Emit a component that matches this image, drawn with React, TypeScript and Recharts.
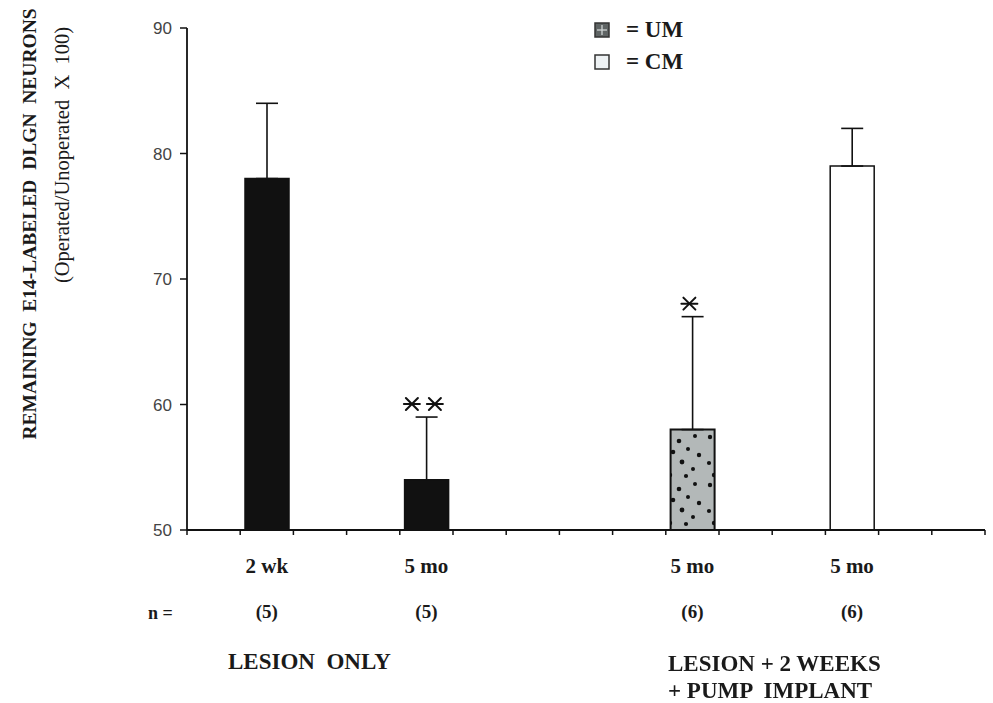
import { BarChart, Bar, XAxis, YAxis, Cell, ErrorBar, ReferenceDot, Legend } from "recharts";

// groups along the x axis (slot centres on a 0..15 scale)
const groupLabels = ["2 wk", "5 mo", "5 mo", "5 mo"];
const groupSlots = [1.5, 4.5, 9.5, 12.5];
const meanValues = [78, 54, 58, 79];
const semValues = [6, 5, 9, 3];
const nLabels = ["(5)", "(5)", "(6)", "(6)"];
const barKinds = ["lesion", "lesion", "UM", "CM"];
const sigMarks = ["", "**", "*", ""];
const yTicks = [50, 60, 70, 80, 90];
const slotEdges = [0, 1, 2, 3, 4, 5, 6, 7, 8, 9, 10, 11, 12, 13, 14, 15];
const legendItems = [
  { label: "= UM", kind: "UM" },
  { label: "= CM", kind: "CM" },
];

const serif = "'Liberation Serif', 'Times New Roman', serif";

const data = groupSlots.map((x, i) => ({
  x,
  mean: meanValues[i],
  err: [0, semValues[i]],
  kind: barKinds[i],
}));

const fillFor = (kind: string) =>
  kind === "UM" ? "url(#umDots)" : kind === "CM" ? "#ffffff" : "#111111";

// keeps the tick line but draws no text
const NoLabel = () => <g />;

const GroupTick = ({ x, y, payload }: any) => {
  const i = groupSlots.indexOf(payload.value);
  if (i < 0) return null;
  return (
    <g fontFamily={serif} fontWeight="bold" fill="#1a1a1a" textAnchor="middle">
      <text x={x} y={y + 35} fontSize={21}>{groupLabels[i]}</text>
      <text x={x} y={y + 80} fontSize={19}>{nLabels[i]}</text>
    </g>
  );
};

const Star = ({ cx, cy }: { cx: number; cy: number }) => (
  <g stroke="#111" strokeWidth={2} strokeLinecap="round">
    <line x1={cx - 8} y1={cy} x2={cx + 8} y2={cy} />
    <line x1={cx - 6} y1={cy - 6} x2={cx + 6} y2={cy + 6} />
    <line x1={cx - 6} y1={cy + 6} x2={cx + 6} y2={cy - 6} />
  </g>
);

const SigShape = (mark: string) => (props: any) => {
  const { cx, cy } = props;
  const count = mark.length;
  return (
    <g>
      {Array.from(mark).map((_, k) => (
        <Star key={k} cx={cx + (k - (count - 1) / 2) * 23 - 3} cy={cy - 13} />
      ))}
    </g>
  );
};

const LegendBox = () => (
  <div style={{ fontFamily: serif, fontWeight: "bold", fontSize: 23, color: "#1a1a1a" }}>
    {legendItems.map((item) => (
      <div key={item.kind} style={{ display: "flex", alignItems: "center", height: 32 }}>
        <svg width={16} height={16} style={{ marginRight: 16 }}>
          <rect x={1} y={1} width={14} height={14} fill={item.kind === "UM" ? "#5f6464" : "#eef2f4"} stroke="#333" strokeWidth={1.5} />
          {item.kind === "UM" && (
            <g stroke="#cfd4d4" strokeWidth={1.3}>
              <line x1={8} y1={3} x2={8} y2={13} />
              <line x1={3} y1={8} x2={13} y2={8} />
            </g>
          )}
        </svg>
        <span>{item.label}</span>
      </div>
    ))}
  </div>
);

export default function App() {
  return (
    <div style={{ position: "fixed", left: 0, top: 0, width: 993, height: 703, background: "#fff" }}>
      <BarChart width={993} height={703} data={data} margin={{ top: 28, right: 8, left: 0, bottom: 0 }}>
        <defs>
          <pattern id="umDots" width={44} height={48} patternUnits="userSpaceOnUse">
            <rect width={44} height={48} fill="#b3b8b8" />
            <g fill="#111">
              <circle cx={6} cy={5} r={2.2} />
              <circle cx={19} cy={9} r={2.3} />
              <circle cx={35} cy={4} r={2} />
              <circle cx={13} cy={20} r={2.3} />
              <circle cx={28} cy={17} r={2} />
              <circle cx={39} cy={23} r={2.2} />
              <circle cx={5} cy={31} r={2.1} />
              <circle cx={22} cy={30} r={2.4} />
              <circle cx={33} cy={37} r={2} />
              <circle cx={10} cy={43} r={2.2} />
              <circle cx={26} cy={44} r={2.1} />
            </g>
          </pattern>
        </defs>
        {/* slot boundaries: axis line with a tick between every slot */}
        <XAxis
          xAxisId="axisA"
          type="number"
          dataKey="x"
          domain={[0, 15]}
          ticks={slotEdges}
          interval={0}
          tick={<NoLabel />}
          tickSize={5}
          height={8}
          axisLine={{ stroke: "#111", strokeWidth: 1.8 }}
          tickLine={{ stroke: "#111", strokeWidth: 1.5 }}
        />
        {/* group names and n under the slot centres */}
        <XAxis
          xAxisId="axisB"
          type="number"
          dataKey="x"
          domain={[0, 15]}
          ticks={groupSlots}
          interval={0}
          axisLine={false}
          tickLine={false}
          tickSize={0}
          tickMargin={0}
          height={165}
          tick={<GroupTick />}
        />
        <YAxis
          type="number"
          domain={[50, 90]}
          ticks={yTicks}
          interval={0}
          width={187}
          tickSize={7}
          tickMargin={8}
          axisLine={{ stroke: "#111", strokeWidth: 1.8 }}
          tickLine={{ stroke: "#111", strokeWidth: 1.5 }}
          tick={{ fill: "#444", fontSize: 17, fontFamily: "'Liberation Sans', Arial, sans-serif" }}
        />
        <Legend
          layout="vertical"
          align="center"
          verticalAlign="middle"
          content={<LegendBox />}
          wrapperStyle={{ left: 594, top: 14, width: 140 }}
        />
        <Bar xAxisId="axisA" dataKey="mean" barSize={44} isAnimationActive={false}>
          {data.map((d, i) => (
            <Cell
              key={`bar-${i}`}
              fill={fillFor(d.kind)}
              stroke="#111"
              strokeWidth={d.kind === "UM" ? 2 : 1.5}
            />
          ))}
          <ErrorBar dataKey="err" width={11} stroke="#111" strokeWidth={1.6} direction="y" />
        </Bar>
        {sigMarks.map((m, i) =>
          m ? (
            <ReferenceDot
              key={`sig-${i}`}
              xAxisId="axisA"
              x={groupSlots[i]}
              y={meanValues[i] + semValues[i]}
              r={1}
              shape={SigShape(m)}
            />
          ) : null
        )}
      </BarChart>

      <div
        style={{
          position: "absolute",
          left: 30,
          top: 224,
          transform: "translate(-50%, -50%) rotate(-90deg)",
          whiteSpace: "pre",
          fontFamily: serif,
          fontWeight: "bold",
          fontSize: 19.5,
          color: "#1a1a1a",
        }}
      >
        {"REMAINING  E14-LABELED  DLGN  NEURONS"}
      </div>
      <div
        style={{
          position: "absolute",
          left: 62,
          top: 155,
          transform: "translate(-50%, -50%) rotate(-90deg)",
          whiteSpace: "pre",
          fontFamily: serif,
          fontSize: 20.5,
          color: "#1a1a1a",
        }}
      >
        {"(Operated/Unoperated  X  100)"}
      </div>

      <div style={{ position: "absolute", left: 148, top: 603, fontFamily: serif, fontWeight: "bold", fontSize: 18, color: "#1a1a1a" }}>
        n =
      </div>
      <div style={{ position: "absolute", left: 228, top: 649, whiteSpace: "pre", fontFamily: serif, fontWeight: "bold", fontSize: 23, color: "#1a1a1a" }}>
        {"LESION  ONLY"}
      </div>
      <div style={{ position: "absolute", left: 668, top: 650, whiteSpace: "pre", fontFamily: serif, fontWeight: "bold", fontSize: 23, lineHeight: "27px", color: "#1a1a1a" }}>
        {"LESION + 2 WEEKS\n+ PUMP  IMPLANT"}
      </div>
    </div>
  );
}
